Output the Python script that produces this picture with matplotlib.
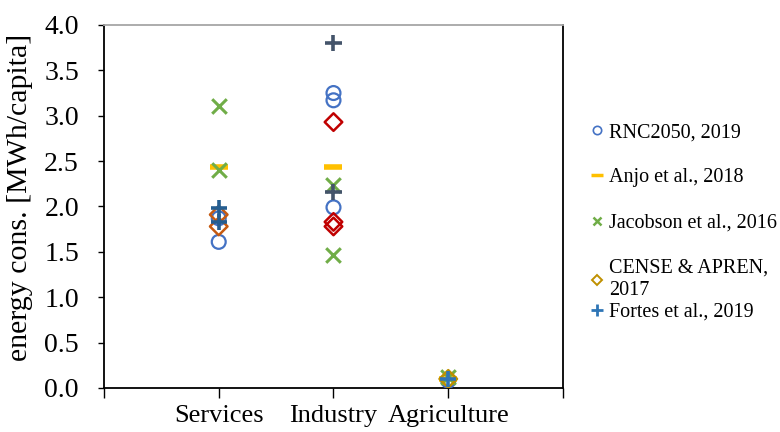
import numpy as np
import matplotlib
matplotlib.use('Agg')
from matplotlib import pyplot as plt
from matplotlib.lines import Line2D

plt.rcParams['font.family'] = ['Liberation Serif', 'DejaVu Serif']

cats = ['Services', 'Industry', 'Agriculture']

# values, grouped per source
rnc_x = [1, 1, 2, 2, 2, 3]
rnc_y = [1.87, 1.61, 3.25, 3.17, 1.99, 0.08]

anjo_x = [1, 2, 3]
anjo_y = [2.44, 2.44, 0.10]

jac_x = [1, 1, 2, 2, 3]
jac_y = [3.11, 2.40, 2.24, 1.46, 0.12]

cense_x = [1, 1, 2, 2, 2, 3]
cense_y = [1.91, 1.78, 2.93, 1.83, 1.78, 0.10]
cense_cols = ['#C55A11', '#C55A11', '#C00000', '#C00000', '#C00000', '#BF9000']

fortes_x = [1, 1, 2, 2, 3]
fortes_y = [1.98, 1.83, 3.80, 2.16, 0.10]
fortes_cols = ['#255E91', '#255E91', '#44546A', '#44546A', '#2E75B6']

fig = plt.figure(figsize=(7.8, 4.32), dpi=100)
ax = fig.add_axes([0.1333, 0.1019, 0.5885, 0.8403])

ax.scatter(rnc_x, rnc_y, s=100, facecolors='none', edgecolors='#4472C4',
           linewidths=1.6, zorder=3)
ax.scatter(anjo_x, anjo_y, s=170, marker='_', color='#FFC000',
           linewidths=4, zorder=3)
ax.scatter(jac_x, jac_y, s=110, marker='x', color='#70AD47',
           linewidths=2.2, zorder=3)
ax.scatter(cense_x, cense_y, s=80, marker='D', facecolors='none',
           edgecolors=cense_cols, linewidths=1.8, zorder=3)
ax.scatter(fortes_x, fortes_y, s=140, marker='+', color=fortes_cols,
           linewidths=2.6, zorder=3)

ax.set_xlim(0, 4)
ax.set_ylim(0, 4)
ax.set_xticks([0, 1, 2, 3, 4])
ax.set_xticklabels(['', cats[0], cats[1], cats[2], ''])
ax.set_yticks(np.arange(0, 4.01, 0.5))
ax.set_yticklabels(['%.1f' % v for v in np.arange(0, 4.01, 0.5)])
ax.tick_params(axis='y', direction='out', length=4, width=1, labelsize=20, pad=14)
ax.tick_params(axis='x', direction='out', length=7, width=1, labelsize=19, pad=5)

for s in ['left', 'bottom', 'right']:
    ax.spines[s].set_color('black')
    ax.spines[s].set_linewidth(1.3)
ax.spines['top'].set_color('#A6A6A6')
ax.spines['top'].set_linewidth(1.3)

ax.set_ylabel('energy cons. [MWh/capita]', fontsize=21.5)
ax.yaxis.set_label_coords(-0.155, 0.526)

handles = [
    Line2D([], [], ls='none', marker='o', ms=6, mfc='none', mec='#4472C4', mew=1.2),
    Line2D([], [], ls='none', marker='_', ms=9, color='#FFC000', mew=2.5),
    Line2D([], [], ls='none', marker='x', ms=6, color='#70AD47', mew=1.8),
    Line2D([], [], ls='none', marker='D', ms=5, mfc='none', mec='#BF9000', mew=1.4),
    Line2D([], [], ls='none', marker='+', ms=8, color='#2E75B6', mew=2),
]
labels = ['RNC2050, 2019', 'Anjo et al., 2018', 'Jacobson et al., 2016',
          'CENSE & APREN,\n2017', 'Fortes et al., 2019']
leg_kw = dict(loc='upper left', frameon=False, fontsize=14.5, handlelength=0.6,
              handletextpad=0.3, labelspacing=1.3, borderaxespad=0, borderpad=0)
leg = fig.legend(handles[:4], labels[:4], bbox_to_anchor=(0.758, 0.715), **leg_kw)
for t in leg.get_texts():
    t.set_linespacing(1.25)
leg2 = fig.legend(handles[4:], labels[4:], bbox_to_anchor=(0.758, 0.299), **leg_kw)

fig.savefig('out.png', dpi=100)
